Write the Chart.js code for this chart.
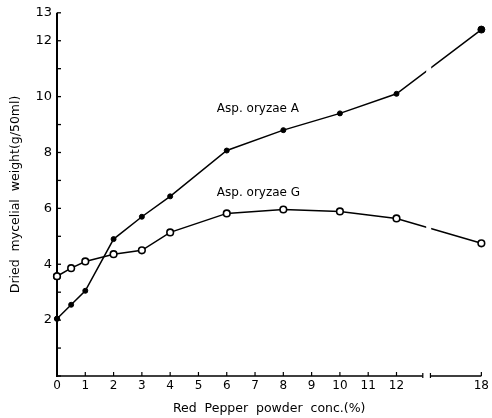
<!DOCTYPE html>
<html>
<head>
<meta charset="utf-8">
<script src="https://cdn.jsdelivr.net/npm/chart.js@4/dist/chart.umd.min.js"></script>
<style>
    html, body { margin: 0; padding: 0; background: #fff; }
    canvas { display: block; }
</style>
</head>
<body>
<canvas id="chart" width="492" height="418"></canvas>
<script>
// Red pepper powder concentration (%)
const concA = [0, 0.5, 1, 2, 3, 4, 6, 8, 10, 12, 18];
const weightA = [2.05, 2.55, 3.05, 4.9, 5.7, 6.43, 8.07, 8.8, 9.4, 10.1, 12.4];

const concG = [0, 0.5, 1, 2, 3, 4, 6, 8, 10, 12, 18];
const weightG = [3.57, 3.86, 4.1, 4.36, 4.5, 5.14, 5.82, 5.96, 5.89, 5.64, 4.75];

// x tick labels (axis is broken between 12 and 18)
const xTickLabels = ['0', '1', '2', '3', '4', '5', '6', '7', '8', '9', '10', '11', '12', '18'];
// y tick labels shown
const yTickLabels = [2, 4, 6, 8, 10, 12, 13];

const FONT = 'DejaVu Sans';

// broken axis: the 12 -> 18 stretch is drawn at half scale
function axisPos(c) {
    return c <= 12 ? c : 12 + (c - 12) / 2;
}
const xTickValues = xTickLabels.map(l => axisPos(Number(l)));

function toPoints(xs, ys) {
    return xs.map((x, i) => ({ x: axisPos(x), y: ys[i] }));
}

// axes, inward ticks, break and curve labels
const axisPlugin = {
    id: 'axisPlugin',
    afterDatasetsDraw(chart) {
        const { ctx, chartArea, scales } = chart;
        const x = scales.x, y = scales.y;
        ctx.save();

        // gap in the curves at the break
        const gx = x.getPixelForValue(13.12);
        ctx.fillStyle = '#fff';
        ctx.fillRect(gx - 2, chartArea.top, 5, chartArea.bottom - chartArea.top - 3);

        ctx.strokeStyle = '#000';
        ctx.lineCap = 'butt';

        // y axis
        ctx.lineWidth = 2;
        ctx.beginPath();
        ctx.moveTo(chartArea.left, chartArea.top);
        ctx.lineTo(chartArea.left, chartArea.bottom + 1);
        ctx.stroke();

        // y ticks (inward)
        ctx.lineWidth = 1.3;
        for (let v = 0; v <= 13; v++) {
            const py = y.getPixelForValue(v);
            ctx.beginPath();
            ctx.moveTo(chartArea.left, py);
            ctx.lineTo(chartArea.left + 4, py);
            ctx.stroke();
        }

        // x axis with break
        const b1 = x.getPixelForValue(12.93);
        const b2 = x.getPixelForValue(13.2);
        const by = chartArea.bottom;
        ctx.lineWidth = 1.6;
        ctx.beginPath();
        ctx.moveTo(chartArea.left, by);
        ctx.lineTo(b1, by);
        ctx.moveTo(b2, by);
        ctx.lineTo(chartArea.right, by);
        ctx.stroke();
        ctx.lineWidth = 1.2;
        ctx.beginPath();
        ctx.moveTo(b1, by - 3);
        ctx.lineTo(b1, by + 2);
        ctx.moveTo(b2, by - 3);
        ctx.lineTo(b2, by + 2);
        ctx.stroke();

        // x ticks (inward)
        xTickValues.forEach(v => {
            const px = x.getPixelForValue(v);
            ctx.beginPath();
            ctx.moveTo(px, by);
            ctx.lineTo(px, by - 4);
            ctx.stroke();
        });

        // redraw the markers sitting on the left axis so they stay on top
        chart.data.datasets.forEach((ds, di) => {
            const meta = chart.getDatasetMeta(di);
            if (meta.data[0]) meta.data[0].draw(ctx);
        });

        // curve labels
        ctx.fillStyle = '#000';
        ctx.font = '12px "' + FONT + '"';
        ctx.textAlign = 'left';
        ctx.textBaseline = 'middle';
        ctx.fillText('Asp. oryzae A', x.getPixelForValue(5.65), y.getPixelForValue(9.57));
        ctx.fillText('Asp. oryzae G', x.getPixelForValue(5.65), y.getPixelForValue(6.57));

        ctx.restore();
    }
};

new Chart(document.getElementById('chart'), {
    type: 'line',
    data: {
        datasets: [
            {
                label: 'Asp. oryzae A',
                data: toPoints(concA, weightA),
                borderColor: '#000',
                backgroundColor: '#000',
                borderWidth: 1.5,
                pointRadius: [2.5, 2.5, 2.5, 2.5, 2.5, 2.5, 2.5, 2.5, 2.5, 2.5, 3.5],
                pointBorderWidth: 1,
                pointBackgroundColor: '#000',
                pointBorderColor: '#000',
                tension: 0,
                clip: false
            },
            {
                label: 'Asp. oryzae G',
                data: toPoints(concG, weightG),
                borderColor: '#000',
                backgroundColor: '#fff',
                borderWidth: 1.5,
                pointRadius: 3.3,
                pointBorderWidth: 1.6,
                pointBackgroundColor: '#fff',
                pointBorderColor: '#000',
                tension: 0,
                clip: false
            }
        ]
    },
    options: {
        responsive: false,
        devicePixelRatio: 1,
        animation: false,
        layout: { padding: { top: 12, right: 9, left: 0, bottom: 0 } },
        plugins: {
            legend: { display: false },
            tooltip: { enabled: false }
        },
        scales: {
            x: {
                type: 'linear',
                min: 0,
                max: 15,
                grid: { display: false, drawTicks: false },
                border: { display: false },
                afterFit: scale => { scale.height = 42; },
                afterBuildTicks: scale => {
                    scale.ticks = xTickValues.map(v => ({ value: v }));
                },
                ticks: {
                    autoSkip: false,
                    maxRotation: 0,
                    padding: 3,
                    color: '#000',
                    font: { family: FONT, size: 12 },
                    callback: (v) => {
                        const i = xTickValues.indexOf(v);
                        return i >= 0 ? xTickLabels[i] : '';
                    }
                },
                title: {
                    display: true,
                    text: 'Red  Pepper  powder  conc.(%)',
                    color: '#000',
                    font: { family: FONT, size: 12.5 },
                    padding: { top: 0, bottom: 2 }
                }
            },
            y: {
                min: 0,
                max: 13,
                grid: { display: false, drawTicks: false },
                border: { display: false },
                afterFit: scale => { scale.width = 57; },
                afterBuildTicks: scale => {
                    scale.ticks = yTickLabels.map(v => ({ value: v }));
                },
                ticks: {
                    autoSkip: false,
                    padding: 5,
                    color: '#000',
                    font: { family: FONT, size: 13 },
                    callback: v => String(v)
                },
                title: {
                    display: true,
                    text: 'Dried  mycelial  weight(g/50ml)',
                    color: '#000',
                    font: { family: FONT, size: 12.5 },
                    padding: { top: 8, bottom: 0 }
                }
            }
        }
    },
    plugins: [axisPlugin]
});
</script>
</body>
</html>
